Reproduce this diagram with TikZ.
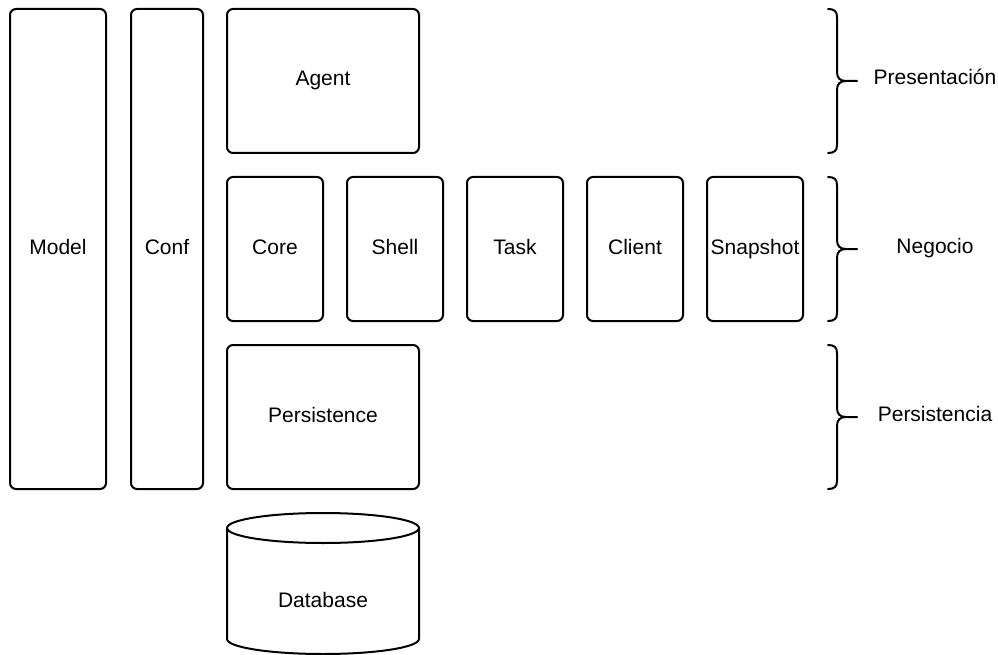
\documentclass[tikz,border=0pt]{standalone}
\usepackage{fontspec}
\setmainfont{Liberation Sans}
\begin{document}
\begin{tikzpicture}[x=1pt,y=-1pt,
  lbl/.style={font=\fontsize{21}{25}\selectfont, text height=15pt, text depth=5pt, inner sep=0pt},
  box/.style={lbl, draw=black, line width=2pt, rounded corners=6pt, fill=white},
  brc/.style={draw=black, line width=2pt, line cap=round, line join=round}]
\useasboundingbox[fill=white] (0,0) rectangle (998,655);
% tall boxes
\node[box, minimum width=96pt, minimum height=480pt] (model) at (58,249) {Model};
\node[box, minimum width=72pt, minimum height=480pt] (conf) at (167,249) {Conf};
% presentation
\node[box, minimum width=192pt, minimum height=144pt] (agent) at (323,81) {Agent};
% business
\node[box, minimum width=96pt, minimum height=144pt] (core) at (275,249) {Core};
\node[box, minimum width=96pt, minimum height=144pt] (shell) at (395,249) {Shell};
\node[box, minimum width=96pt, minimum height=144pt] (task) at (515,249) {Task};
\node[box, minimum width=96pt, minimum height=144pt] (client) at (635,249) {Client};
\node[box, minimum width=96pt, minimum height=144pt] (snapshot) at (755,249) {Snapshot};
% persistence
\node[box, minimum width=192pt, minimum height=144pt] (persistence) at (323,417) {Persistence};
% database cylinder
\draw[brc] (227,528) -- (227,639) arc[start angle=180, end angle=360, x radius=96, y radius=-15] -- (419,528);
\draw[brc] (323,528) ellipse[x radius=96, y radius=15];
\node[lbl] (db) at (323,602) {Database};
% braces
\foreach \m/\nm/\t in {81/bp/Presentación, 249/bn/Negocio, 417/bs/Persistencia}{
  \draw[brc] (828,\m-72) .. controls (834,\m-72) and (837,\m-70) .. (837,\m-64)
     -- (837,\m-9) .. controls (837,\m-3) and (840,\m) .. (846,\m) -- (857,\m);
  \draw[brc] (846,\m) .. controls (840,\m) and (837,\m+3) .. (837,\m+9)
     -- (837,\m+64) .. controls (837,\m+70) and (834,\m+72) .. (828,\m+72);
  \node[lbl] (\nm) at (935,\m-1) {\t};
}
\end{tikzpicture}
\end{document}
